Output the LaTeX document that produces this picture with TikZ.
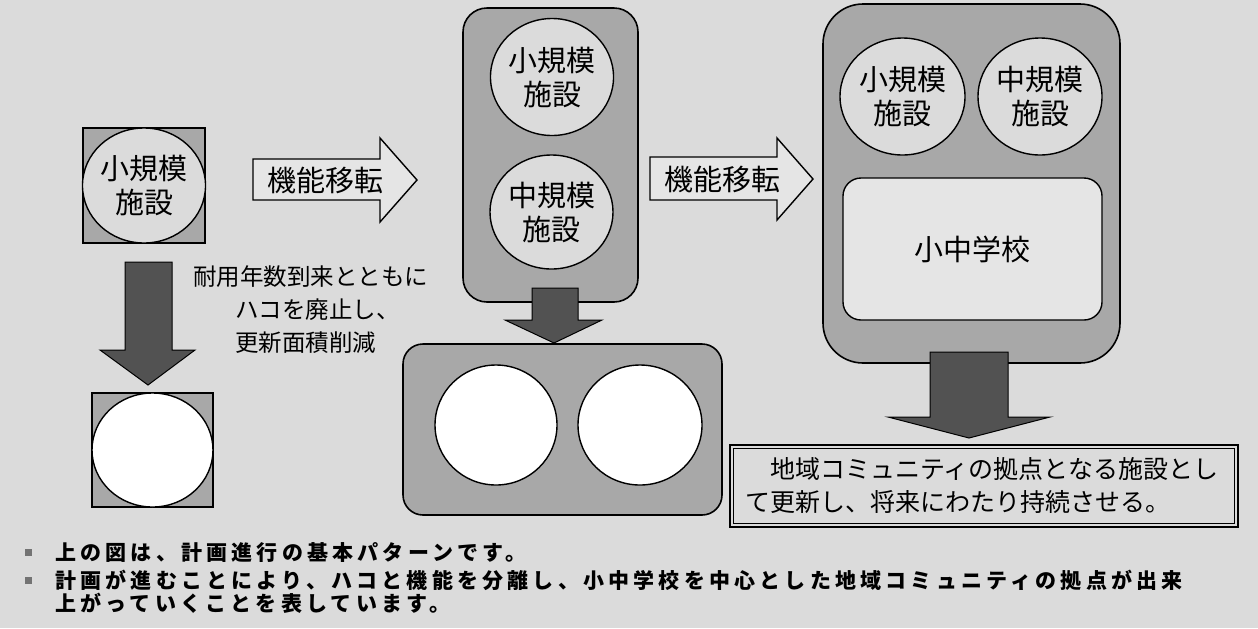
\documentclass[tikz,border=0pt]{standalone}
\usepackage{fontspec}
\setmainfont{Noto Sans CJK JP}
\newfontfamily\notefont[LetterSpace=20]{Noto Sans CJK JP}
\usetikzlibrary{positioning,shapes.geometric}

\definecolor{bggray}{gray}{0.86}
\definecolor{boxgray}{gray}{0.66}
\definecolor{darkgray}{gray}{0.32}
\definecolor{lightgray}{gray}{0.90}

\begin{document}
\begin{tikzpicture}[x=0.5pt,y=-0.5pt,
        sqbox/.style={rectangle, draw=black, fill=boxgray, line width=0.7pt},
        roundbox/.style={rectangle, rounded corners=#1, draw=black, fill=boxgray, line width=0.8pt},
        facility/.style={ellipse, draw=black, fill=bggray, line width=0.7pt, inner sep=0pt, align=center,
                font=\fontsize{14.5}{17}\selectfont},
        emptysite/.style={ellipse, draw=black, fill=white, line width=0.7pt, inner sep=0pt},
        movearrow/.style={draw=black, fill=lightgray, line width=0.7pt},
        downarrow/.style={draw=black, fill=darkgray, line width=0.5pt},
        movelabel/.style={inner sep=0pt, font=\fontsize{14.5}{16}\selectfont},
        sidetext/.style={anchor=west, inner sep=0pt, font=\fontsize{11.75}{14}\selectfont},
        note/.style={inner sep=0pt, align=left, font=\notefont\bfseries\fontsize{10.5}{10}\selectfont},
        bulletsq/.style={rectangle, fill=black!55, minimum size=3.5pt, inner sep=0pt}]

        \useasboundingbox (0,0) rectangle (1258,628);
        \fill[bggray] (0,0) rectangle (1258,628);

        % stage 1
        \node[sqbox, minimum width=61pt, minimum height=57.5pt] (small1) at (144,185.5) {};
        \node[facility, minimum width=61pt, minimum height=57.5pt] (small1c) at (small1.center) {小規模\\施設};

        \draw[downarrow] (125,262) -- (172,262) -- (172,350) -- (195,350) -- (148,385) -- (100,350) -- (125,350) -- cycle;

        \node[sqbox, minimum width=60.5pt, minimum height=57pt] (small2) at (152.5,450) {};
        \node[emptysite, minimum width=60.5pt, minimum height=57pt] (small2c) at (small2.center) {};

        \node[sidetext] (lt1) at (193,277) {耐用年数到来とともに};
        \node[sidetext] (lt2) at (235,310) {ハコを廃止し、};
        \node[sidetext] (lt3) at (235,343) {更新面積削減};

        \draw[movearrow] (253,159) -- (380,159) -- (380,138) -- (417,180) -- (380,222) -- (380,200) -- (253,200) -- cycle;
        \node[movelabel] (move1) at (325,180) {機能移転};

        % stage 2
        \node[roundbox=12pt, minimum width=87.5pt, minimum height=147pt] (mid) at (550.5,155) {};
        \node[facility, minimum width=61.5pt, minimum height=58.5pt] (mid1) at (552,77) {小規模\\施設};
        \node[facility, minimum width=61.5pt, minimum height=57pt] (mid2) at (551.5,212) {中規模\\施設};

        \node[roundbox=10pt, minimum width=159.5pt, minimum height=85.5pt] (midlow) at (562.5,429.5) {};
        \node[emptysite, minimum width=61pt, minimum height=60pt] (midlow1) at (496,425) {};
        \node[emptysite, minimum width=62pt, minimum height=60pt] (midlow2) at (640,425) {};

        \draw[downarrow] (532,288) -- (578,288) -- (578,320) -- (602,320) -- (554,343) -- (505,320) -- (532,320) -- cycle;

        \draw[movearrow] (650,157) -- (777,157) -- (777,138) -- (813,179) -- (777,220) -- (777,200) -- (650,200) -- cycle;
        \node[movelabel] (move2) at (722,179) {機能移転};

        % stage 3
        \node[roundbox=20pt, minimum width=148.5pt, minimum height=179.5pt] (big) at (971.5,183.5) {};
        \node[facility, minimum width=62.5pt, minimum height=58.5pt] (big1) at (902.5,96.5) {小規模\\施設};
        \node[facility, minimum width=62pt, minimum height=58.5pt] (big2) at (1040,96.5) {中規模\\施設};
        \node[rectangle, rounded corners=9pt, draw=black, fill=lightgray, line width=0.7pt,
                minimum width=129.5pt, minimum height=71pt, font=\fontsize{14.5}{17}\selectfont] (school) at (972.5,249) {小中学校};

        \draw[downarrow] (930,352) -- (1008,352) -- (1008,417) -- (1050,417) -- (969,438) -- (888,417) -- (930,417) -- cycle;

        \node[rectangle, draw=black, line width=1.3pt, fill=bggray, minimum width=254pt, minimum height=41pt] (goal) at (984,486) {};
        \draw[line width=0.5pt] ([shift={(2.2pt,2.2pt)}]goal.south west) rectangle ([shift={(-2.2pt,-2.2pt)}]goal.north east);
        \node[anchor=west, inner sep=0pt, align=left, font=\fontsize{12.5}{16.5}\selectfont] (goaltext) at (745,486)
                {　地域コミュニティの拠点となる施設とし\\て更新し、将来にわたり持続させる。};

        % notes
        \node[bulletsq] (b1) at (28,552) {};
        \node[bulletsq] (b2) at (28,580) {};
        \node[note, anchor=west] (note1) at (55,552) {上の図は、計画進行の基本パターンです。};
        \node[note, anchor=north west] (note2) at (55,570)
                {計画が進むことにより、ハコと機能を分離し、小中学校を中心とした地域コミュニティの拠点が出来\\上がっていくことを表しています。};

\end{tikzpicture}
\end{document}
